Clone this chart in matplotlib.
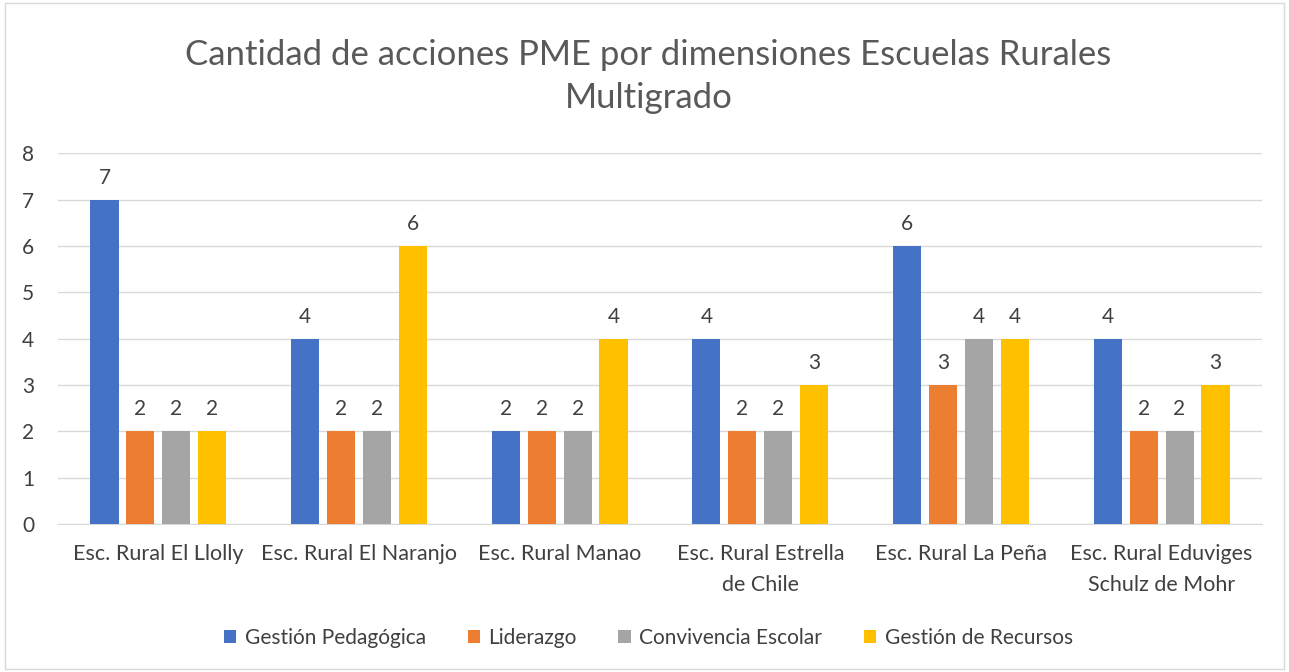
import matplotlib.pyplot as plt
import numpy as np

schools = [
    "Esc. Rural El Llolly",
    "Esc. Rural El Naranjo",
    "Esc. Rural Manao",
    "Esc. Rural Estrella\nde Chile",
    "Esc. Rural La Peña",
    "Esc. Rural Eduviges\nSchulz de Mohr",
]
gestion_pedagogica = [7, 4, 2, 4, 6, 4]
liderazgo = [2, 2, 2, 2, 3, 2]
convivencia_escolar = [2, 2, 2, 2, 4, 2]
gestion_recursos = [2, 6, 4, 3, 4, 3]

series = [
    ("Gestión Pedagógica", gestion_pedagogica, "#4472C4"),
    ("Liderazgo", liderazgo, "#ED7D31"),
    ("Convivencia Escolar", convivencia_escolar, "#A5A5A5"),
    ("Gestión de Recursos", gestion_recursos, "#FFC000"),
]

plt.rcParams["font.family"] = ["Lato", "DejaVu Sans"]

fig = plt.figure(figsize=(12.89, 6.72), dpi=100)
ax = fig.add_axes([0.045, 0.22, 0.934, 0.552])

x = np.arange(len(schools))
width = 0.14
step = 0.179
for i, (name, vals, color) in enumerate(series):
    pos = x + (i - 1.5) * step
    bars = ax.bar(pos, vals, width, color=color, label=name, zorder=3)
    for b, v in zip(bars, vals):
        ax.text(b.get_x() + b.get_width() / 2, v + 0.26, str(v),
                ha="center", va="bottom", fontsize=15, color="#404040")

ax.set_xlim(-0.5, len(schools) - 0.5)
ax.set_ylim(0, 8)
ax.set_yticks(range(0, 9))
ax.set_xticks(x)
ax.set_xticklabels(schools, fontsize=15.5, color="#404040", linespacing=1.7)
ax.tick_params(axis="y", labelsize=15, labelcolor="#404040", length=0, pad=26)
ax.tick_params(axis="x", length=0, pad=14)
ax.grid(axis="y", color="#D9D9D9", linewidth=1, zorder=0)
for s in ["top", "right", "left"]:
    ax.spines[s].set_visible(False)
ax.spines["bottom"].set_color("#D9D9D9")
for lab in ax.get_yticklabels():
    lab.set_horizontalalignment("left")

fig.text(0.503, 0.886, "Cantidad de acciones PME por dimensiones Escuelas Rurales\nMultigrado",
         ha="center", va="center", fontsize=25, color="#595959", linespacing=1.4)

fig.legend(loc="center", bbox_to_anchor=(0.503, 0.051), ncol=4, frameon=False,
           fontsize=15, handlelength=0.6, handleheight=0.6, columnspacing=2.0,
           handletextpad=0.4, labelcolor="#404040")

border = plt.Rectangle((0.004, 0.004), 0.992, 0.992, transform=fig.transFigure,
                       fill=False, edgecolor="#D9D9D9", linewidth=1)
fig.patches.append(border)

fig.savefig("out.png", dpi=100)
